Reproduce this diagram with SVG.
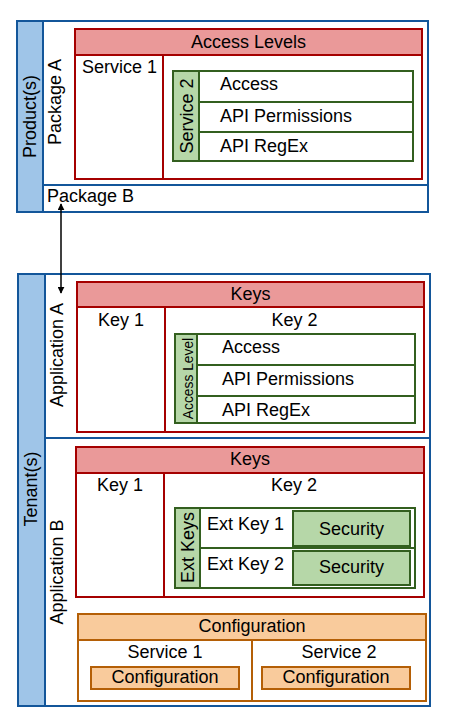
<svg xmlns="http://www.w3.org/2000/svg" width="450" height="725" viewBox="0 0 450 725">
<style>
text{font-family:"Liberation Sans",Arial,sans-serif;font-size:18px;fill:#000}
.sm{font-size:13.8px}
.mid{text-anchor:middle}
.blue{fill:#fff;stroke:#13569a;stroke-width:2}
.side{fill:#9fc5e8;stroke:#13569a;stroke-width:2}
.red{fill:#fff;stroke:#a50000;stroke-width:2}
.redh{fill:#ea9999;stroke:#a50000;stroke-width:2}
.grn{fill:#fff;stroke:#335f1f;stroke-width:2}
.grnh{fill:#b6d7a8;stroke:#335f1f;stroke-width:2}
.org{fill:#fff;stroke:#b45f06;stroke-width:2}
.orgh{fill:#f9cb9c;stroke:#b45f06;stroke-width:2}
.ln{fill:none;stroke-width:2}
</style>
<defs>
<marker id="ah" viewBox="0 0 10 10" refX="9" refY="5" markerWidth="7" markerHeight="7" markerUnits="userSpaceOnUse" orient="auto-start-reverse">
<path d="M0,0 L10,5 L0,10 z" fill="#000"/>
</marker>
</defs>

<g id="products">
<rect class="blue" x="17" y="21" width="411" height="191"/>
<rect class="side" x="17" y="21" width="26" height="191"/>
<text transform="translate(35.5,116.5) rotate(-90)" class="mid">Product(s)</text>
</g>
<g id="package-a">
<text transform="translate(61,102) rotate(-90)" class="mid">Package A</text>
</g>
<g id="package-b">
<line class="ln" stroke="#13569a" x1="43" y1="185" x2="428" y2="185"/>
<text x="47" y="202">Package B</text>
</g>
<g id="access-levels">
<rect class="red" x="75" y="29" width="347" height="150"/>
<rect class="redh" x="75" y="29" width="347" height="26"/>
<text x="248.5" y="47.5" class="mid">Access Levels</text>
<line class="ln" stroke="#a50000" x1="163" y1="55" x2="163" y2="179"/>
</g>
<g id="service-1-top">
<text x="82" y="73">Service 1</text>
</g>
<g id="service-2-top">
<rect class="grn" x="173" y="71" width="240" height="90"/>
<rect class="grnh" x="173" y="71" width="26" height="90"/>
<text transform="translate(193,116) rotate(-90)" class="mid">Service 2</text>
<line class="ln" stroke="#335f1f" x1="199" y1="102" x2="413" y2="102"/>
<line class="ln" stroke="#335f1f" x1="199" y1="132" x2="413" y2="132"/>
<text x="220" y="89.5">Access</text>
<text x="220" y="122">API Permissions</text>
<text x="220" y="152">API RegEx</text>
</g>

<g id="tenants">
<rect class="blue" x="18" y="274" width="412" height="432"/>
<rect class="side" x="18" y="274" width="27" height="432"/>
<text transform="translate(37,489) rotate(-90)" class="mid">Tenant(s)</text>
</g>
<g id="application-a">
<text transform="translate(62.5,355) rotate(-90)" class="mid">Application A</text>
</g>
<g id="application-b">
<line class="ln" stroke="#13569a" x1="45" y1="438" x2="430" y2="438"/>
<text transform="translate(62.5,572) rotate(-90)" class="mid">Application B</text>
</g>
<g id="keys-a">
<rect class="red" x="77" y="282" width="347" height="150"/>
<rect class="redh" x="77" y="282" width="347" height="25"/>
<text x="250.5" y="300" class="mid">Keys</text>
<line class="ln" stroke="#a50000" x1="165" y1="307" x2="165" y2="432"/>
<text x="121" y="326" class="mid">Key 1</text>
<text x="294.5" y="326" class="mid">Key 2</text>
</g>
<g id="access-level-a">
<rect class="grn" x="175" y="334" width="240" height="89"/>
<rect class="grnh" x="175" y="334" width="22" height="89"/>
<text transform="translate(192.5,378.5) rotate(-90)" class="mid sm">Access Level</text>
<line class="ln" stroke="#335f1f" x1="197" y1="365" x2="415" y2="365"/>
<line class="ln" stroke="#335f1f" x1="197" y1="396" x2="415" y2="396"/>
<text x="222" y="352.5">Access</text>
<text x="222" y="384.5">API Permissions</text>
<text x="222" y="415.5">API RegEx</text>
</g>
<g id="keys-b">
<rect class="red" x="76" y="447" width="348" height="150"/>
<rect class="redh" x="76" y="447" width="348" height="26"/>
<text x="250" y="465" class="mid">Keys</text>
<line class="ln" stroke="#a50000" x1="164" y1="473" x2="164" y2="597"/>
<text x="120" y="491" class="mid">Key 1</text>
<text x="294" y="491" class="mid">Key 2</text>
</g>
<g id="ext-keys">
<rect class="grn" x="175" y="508" width="240" height="80"/>
<rect class="grnh" x="175" y="508" width="25" height="80"/>
<text transform="translate(193.5,547.5) rotate(-90)" class="mid">Ext Keys</text>
<line class="ln" stroke="#335f1f" x1="200" y1="548" x2="415" y2="548"/>
<text x="207" y="530">Ext Key 1</text>
<text x="207" y="569.5">Ext Key 2</text>
</g>
<g id="security-1">
<rect class="grnh" x="293" y="511" width="117" height="35"/>
<text x="351.5" y="534.5" class="mid">Security</text>
</g>
<g id="security-2">
<rect class="grnh" x="293" y="551" width="117" height="34"/>
<text x="351.5" y="573" class="mid">Security</text>
</g>
<g id="configuration">
<rect class="org" x="78" y="614" width="348" height="87"/>
<rect class="orgh" x="78" y="614" width="348" height="26"/>
<text x="252" y="632" class="mid">Configuration</text>
<line class="ln" stroke="#b45f06" x1="252" y1="640" x2="252" y2="701"/>
<text x="165" y="657.5" class="mid">Service 1</text>
<text x="339" y="657.5" class="mid">Service 2</text>
</g>
<g id="config-service-1">
<rect class="orgh" x="91" y="667" width="148" height="22"/>
<text x="165" y="683" class="mid">Configuration</text>
</g>
<g id="config-service-2">
<rect class="orgh" x="262" y="667" width="148" height="22"/>
<text x="336" y="683" class="mid">Configuration</text>
</g>

<g id="connectors">
<line x1="61" y1="204" x2="61" y2="293" stroke="#000" stroke-width="1.5" marker-start="url(#ah)" marker-end="url(#ah)"/>
</g>
</svg>
